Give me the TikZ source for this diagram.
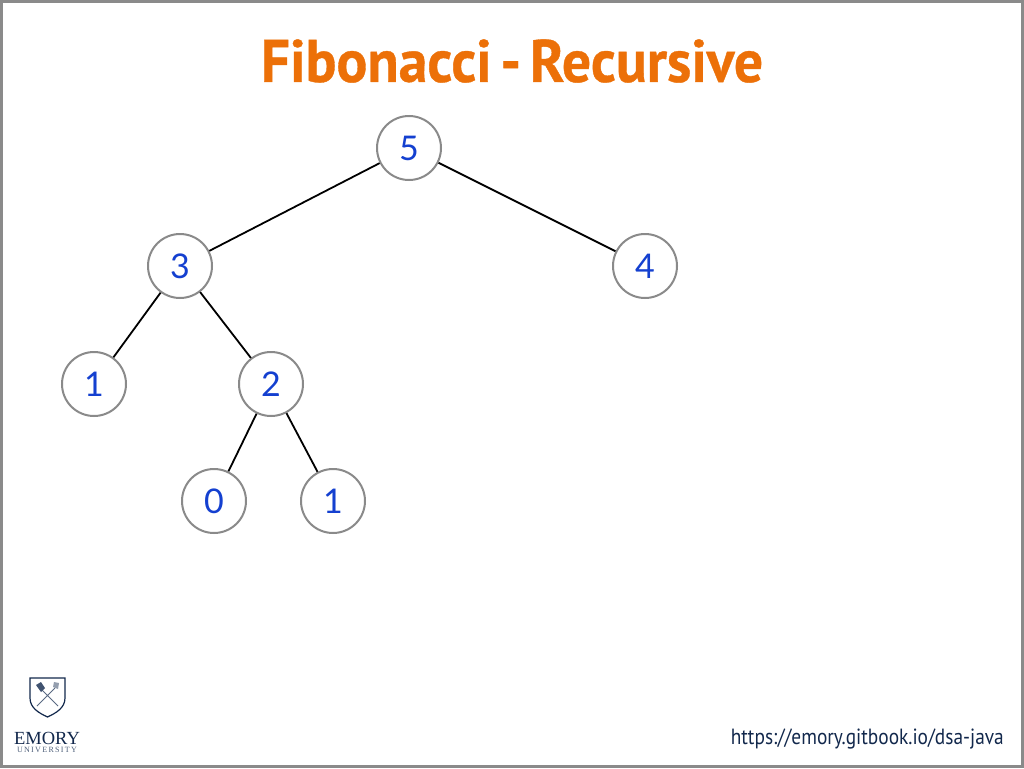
\documentclass[tikz,border=0pt]{standalone}
\usepackage{fontspec}
\setmainfont{Lato}
\newfontfamily\titlefont[FakeStretch=0.96,WordSpace=0.6,FakeBold=0.6]{PT Sans}
\newfontfamily\urlfont[FakeStretch=0.88]{PT Sans}
\newfontfamily\crestfont{Liberation Serif}
\definecolor{titleorange}{HTML}{EC7008}
\definecolor{digitblue}{HTML}{1440D0}
\definecolor{ringgray}{HTML}{8A8A8A}
\definecolor{framegray}{HTML}{8A8A8A}
\definecolor{emorynavy}{HTML}{12284C}
\tikzset{
  treenode/.style={
    circle,
    draw=ringgray,
    line width=2pt,
    fill=white,
    minimum size=64pt,
    inner sep=0pt,
    text=digitblue,
    font=\fontsize{34}{34}\selectfont
  },
  treeedge/.style={black, line width=1.8pt}
}
\begin{document}
\begin{tikzpicture}[x=1pt,y=-1pt]
\useasboundingbox (0,0) rectangle (1024,768);
\draw[framegray, line width=3.4pt] (1.7,1.7) rectangle (1022.3,766.3);

\node[text=titleorange, font=\titlefont\bfseries\fontsize{60}{60}\selectfont, inner sep=0pt] (title) at (512,61) {Fibonacci - Recursive};

% the tree
\node[treenode] (n5) at (409,148) {5};
\node[treenode] (n3) at (180,266) {3};
\node[treenode] (n4) at (645,266) {4};
\node[treenode] (n1a) at (94,384) {1};
\node[treenode] (n2) at (271,384) {2};
\node[treenode] (n0) at (214,501) {0};
\node[treenode] (n1b) at (333,501) {1};

\draw[treeedge] (n5) -- (n3);
\draw[treeedge] (n5) -- (n4);
\draw[treeedge] (n3) -- (n1a);
\draw[treeedge] (n3) -- (n2);
\draw[treeedge] (n2) -- (n0);
\draw[treeedge] (n2) -- (n1b);

% crest
\draw[emorynavy, line width=1.2pt, fill=white]
  (30,678) -- (65,678) -- (65,698) .. controls (65,708) and (56,713) .. (47.5,717)
  .. controls (39,713) and (30,708) .. (30,698) -- cycle;
\draw[emorynavy!70, line width=0.9pt] (37,706) -- (55,688) (58,706) -- (40,688);
\fill[emorynavy!80] (36,685) -- (41,682) -- (45,688) -- (41,692) -- cycle;
\fill[emorynavy!45] (53,687) -- (54,682) -- (59,683) -- (58,689) -- cycle;

\node[text=emorynavy, font=\crestfont\fontsize{18.5}{18.5}\selectfont, inner sep=0pt] (emory) at (47,738) {EMORY};
\node[text=emorynavy!75, font=\crestfont\fontsize{8}{8}\selectfont, inner sep=0pt] (university) at (47,750) {U\,N\,I\,V\,E\,R\,S\,I\,T\,Y};

\node[text=emorynavy, font=\urlfont\fontsize{22}{22}\selectfont, inner sep=0pt, anchor=east] (url) at (1004,739) {https://emory.gitbook.io/dsa-java};
\end{tikzpicture}
\end{document}
